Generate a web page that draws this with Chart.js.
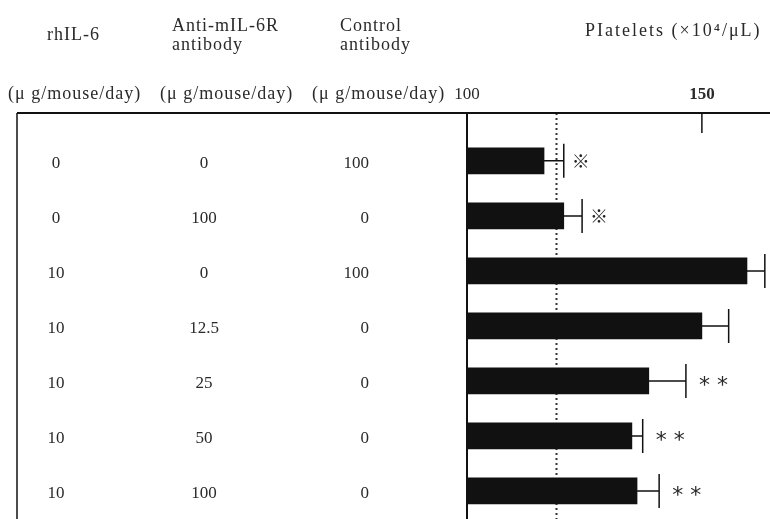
<!DOCTYPE html>
<html>
<head>
<meta charset="utf-8">
<style>
  html, body { margin: 0; padding: 0; background: #fff; }
  #wrap { width: 770px; height: 519px; }
</style>
<script src="https://cdn.jsdelivr.net/npm/chart.js@4.4.0/dist/chart.umd.min.js"></script>
</head>
<body>
<div id="wrap"><canvas id="chart" width="770" height="519"></canvas></div>
<script>
// table columns (dose, ug/mouse/day)
const rhIL6 = ['0', '0', '10', '10', '10', '10', '10'];
const antiIL6R = ['0', '100', '0', '12.5', '25', '50', '100'];
const controlAb = ['100', '0', '100', '0', '0', '0', '0'];

// platelets (x10^4/uL)
const plateletMean = [116.4, 120.6, 159.6, 150.0, 138.7, 135.1, 136.2];
const plateletSD = [4.2, 3.9, 3.8, 5.7, 7.9, 2.3, 4.7];
const significance = ['※', '※', '', '', '* *', '* *', '* *'];

const xTicks = [100, 150];
const controlLevel = 119;

const headers = [
  { text: 'rhIL-6', x: 47, y: 40, sp: 1 },
  { text: 'Anti-mIL-6R', x: 172, y: 31, sp: 1 },
  { text: 'antibody', x: 172, y: 50, sp: 1 },
  { text: 'Control', x: 340, y: 31, sp: 1 },
  { text: 'antibody', x: 340, y: 50, sp: 1 },
  { text: '(\u03bc g/mouse/day)', x: 8, y: 99, sp: 1 },
  { text: '(\u03bc g/mouse/day)', x: 160, y: 99, sp: 1 },
  { text: '(\u03bc g/mouse/day)', x: 312, y: 99, sp: 1 },
  { text: 'PIatelets (\u00d710\u2074/\u03bcL)', x: 585, y: 36, sp: 2 },
];

const SERIF = '"Liberation Serif", "DejaVu Serif", serif';
const INK = '#2a2a2a';

const tablePlugin = {
  id: 'tablePlugin',
  beforeDatasetsDraw(chart) {
    const { ctx, scales: { x }, chartArea } = chart;
    // dotted control line
    ctx.save();
    ctx.strokeStyle = '#333';
    ctx.lineWidth = 2;
    ctx.setLineDash([2, 3]);
    const cx = Math.round(x.getPixelForValue(controlLevel)) + 0.5;
    ctx.beginPath();
    ctx.moveTo(cx, chartArea.top);
    ctx.lineTo(cx, chartArea.bottom);
    ctx.stroke();
    ctx.restore();
  },
  afterDatasetsDraw(chart) {
    const { ctx, scales: { x, y }, chartArea } = chart;
    const top = chartArea.top;
    const bottom = chart.height;
    ctx.save();

    // frame
    ctx.strokeStyle = '#111';
    ctx.lineWidth = 2;
    ctx.beginPath();
    ctx.moveTo(17, top);
    ctx.lineTo(chart.width, top);
    ctx.stroke();
    ctx.lineWidth = 1.5;
    ctx.beginPath();
    ctx.moveTo(17, top);
    ctx.lineTo(17, bottom);
    ctx.stroke();
    ctx.lineWidth = 2;
    const x0 = x.getPixelForValue(xTicks[0]);
    ctx.beginPath();
    ctx.moveTo(x0, top);
    ctx.lineTo(x0, bottom);
    ctx.stroke();

    // tick marks + labels
    ctx.fillStyle = INK;
    ctx.textAlign = 'center';
    ctx.textBaseline = 'alphabetic';
    xTicks.forEach((v, i) => {
      const px = x.getPixelForValue(v);
      if (i > 0) {
        ctx.lineWidth = 1.5;
        ctx.beginPath();
        ctx.moveTo(px, top);
        ctx.lineTo(px, top + 20);
        ctx.stroke();
        ctx.font = 'bold 17px ' + SERIF;
      } else {
        ctx.font = '17px ' + SERIF;
      }
      ctx.fillText(String(v), px, 99);
    });

    // error bars + significance marks
    plateletMean.forEach((m, i) => {
      const py = y.getPixelForValue(i);
      const xe = x.getPixelForValue(m + plateletSD[i]);
      const xm = x.getPixelForValue(m);
      ctx.strokeStyle = '#111';
      ctx.lineWidth = 1.5;
      ctx.beginPath();
      ctx.moveTo(xm, py);
      ctx.lineTo(xe, py);
      ctx.moveTo(xe, py - 17);
      ctx.lineTo(xe, py + 17);
      ctx.stroke();
      const mark = significance[i];
      ctx.textAlign = 'left';
      ctx.textBaseline = 'middle';
      if (mark === '※') {
        ctx.font = 'bold 18px "Noto Sans CJK JP", "DejaVu Sans", sans-serif';
        ctx.fillStyle = '#222';
        ctx.fillText(mark, xe + 8, py);
      } else if (mark) {
        ctx.font = '22px "DejaVu Sans", sans-serif';
        ctx.fillStyle = INK;
        ctx.fillText(mark, xe + 13, py + 5);
      }
    });

    // table values
    ctx.fillStyle = INK;
    ctx.font = '17px ' + SERIF;
    ctx.textBaseline = 'middle';
    plateletMean.forEach((m, i) => {
      const py = y.getPixelForValue(i) + 3;
      ctx.textAlign = 'center';
      ctx.fillText(rhIL6[i], 56, py);
      ctx.fillText(antiIL6R[i], 204, py);
      ctx.textAlign = 'right';
      ctx.fillText(controlAb[i], 369, py);
    });

    // headers
    ctx.textAlign = 'left';
    ctx.textBaseline = 'alphabetic';
    ctx.font = '18px ' + SERIF;
    headers.forEach(h => {
      ctx.letterSpacing = h.sp + 'px';
      ctx.fillText(h.text, h.x, h.y);
    });
    ctx.letterSpacing = '0px';
    ctx.restore();
  }
};

new Chart(document.getElementById('chart'), {
  type: 'bar',
  data: {
    datasets: [{
      data: plateletMean.map((v, i) => ({ x: v, y: i })),
      backgroundColor: '#111',
      borderWidth: 0,
      barThickness: 26,
    }],
  },
  options: {
    indexAxis: 'y',
    responsive: false,
    animation: false,
    devicePixelRatio: 1,
    layout: { padding: { left: 467, top: 113, right: 0, bottom: 0 } },
    plugins: { legend: { display: false }, tooltip: { enabled: false } },
    scales: {
      x: { type: 'linear', min: 100, max: 164.5, offset: false, display: false },
      y: { type: 'linear', reverse: true, min: -0.87, max: 6.51, offset: false, display: false },
    },
  },
  plugins: [tablePlugin],
});
</script>
</body>
</html>
